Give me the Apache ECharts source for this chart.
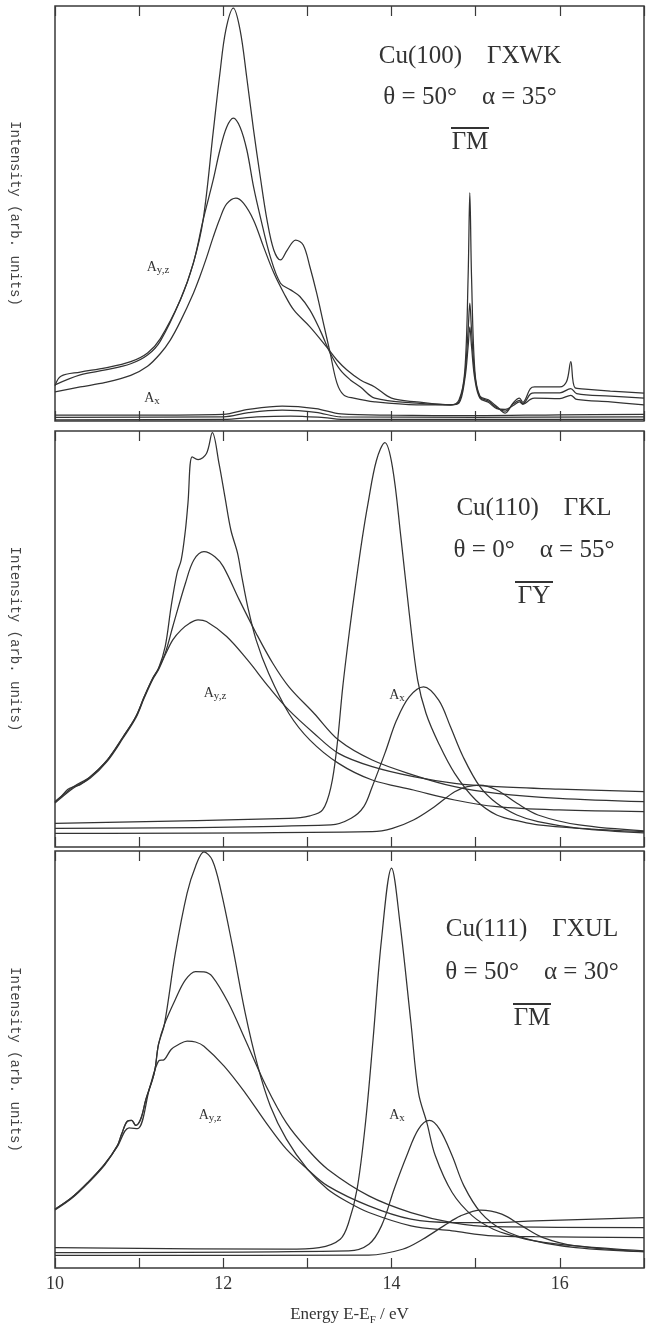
<!DOCTYPE html>
<html><head><meta charset="utf-8">
<script src="https://cdn.jsdelivr.net/npm/echarts@6.0.0/dist/echarts.min.js"></script>
<style>html,body{margin:0;padding:0;background:#fff}#c{width:648px;height:1327px}</style>
</head><body><div id="c"></div>
<script>
// ---- axis ----
const xMin = 10, xMax = 17;
const xTickLabels = ['10', '12', '14', '16'];
const yName = 'Intensity (arb. units)';
const xName = 'Energy E-E{s|F} / eV';

// ---- panel 1: Cu(100) ----
const p1YzSharp = [[10.0,8.5],[10.07,10.8],[10.3,11.8],[10.6,12.8],[10.9,14.3],[11.1,16.4],[11.25,19.8],[11.49,29.2],[11.645,38.1],[11.76,48.4],[11.88,69.6],[11.96,83.8],[12.03,94.2],[12.12,99.5],[12.2,94.2],[12.28,82.6],[12.36,70.1],[12.44,58.8],[12.52,48.4],[12.6,41.2],[12.68,38.8],[12.76,41.2],[12.86,43.6],[12.95,42.4],[13.03,37.1],[13.11,30.8],[13.19,23.6],[13.27,16.4],[13.35,9.2],[13.43,6.3],[13.55,5.5],[13.8,4.6],[14.3,3.9],[14.7,3.9],[14.8,5.0],[14.87,12],[14.91,35],[14.93,55],[14.95,35],[14.99,12],[15.05,6],[15.15,5.1],[15.25,3.5],[15.35,1.9],[15.45,4.5],[15.52,5.5],[15.56,4.5],[15.65,7.8],[15.7,8.2],[16.0,8.2],[16.08,9.5],[16.13,14.3],[16.18,8.0],[16.3,7.7],[16.6,7.2],[17,6.7]];
const p1YzMid = [[10.0,8.7],[10.3,11.1],[10.6,12.3],[10.9,13.8],[11.1,15.9],[11.25,19.2],[11.49,29.2],[11.645,38.1],[11.76,48.4],[11.88,58.1],[11.96,65.3],[12.04,70.8],[12.12,73.0],[12.2,70.8],[12.28,65.3],[12.36,56.4],[12.44,49.2],[12.56,39.5],[12.68,33.2],[12.8,31.6],[12.91,30.0],[13.03,26.7],[13.15,21.9],[13.27,16.4],[13.39,12.3],[13.51,9.9],[13.63,8.2],[13.8,5.5],[14.3,4.3],[14.7,3.9],[14.8,4.6],[14.87,11],[14.91,22],[14.93,28.4],[14.95,22],[14.99,11],[15.05,5.8],[15.15,4.8],[15.25,3.2],[15.35,2.4],[15.45,4.2],[15.52,5.0],[15.56,4.2],[15.65,6.5],[15.7,6.8],[16.0,6.8],[16.13,7.8],[16.2,6.6],[16.6,6.0],[17,5.5]];
const p1YzBroad = [[10.0,7.0],[10.3,8.2],[10.6,9.3],[10.9,11.0],[11.1,13.2],[11.25,16.2],[11.37,19.5],[11.49,24.0],[11.645,30.8],[11.72,34.7],[11.8,39.3],[11.88,44.3],[11.96,48.8],[12.04,52.3],[12.15,53.7],[12.24,52.5],[12.36,48.4],[12.48,41.9],[12.6,35.7],[12.72,30.8],[12.84,26.7],[13.03,22.7],[13.23,17.8],[13.35,14.7],[13.47,12.3],[13.63,9.9],[13.8,8.2],[14.0,5.5],[14.3,4.6],[14.7,3.9],[14.8,4.3],[14.87,10],[14.91,18],[14.93,22.7],[14.95,18],[14.99,10],[15.05,5.5],[15.15,4.5],[15.25,3.0],[15.35,2.8],[15.45,3.8],[15.52,4.6],[15.56,4.0],[15.65,5.2],[15.7,5.5],[16.0,5.4],[16.13,6.2],[16.2,5.2],[16.6,4.6],[17,3.9]];
const p1X1 = [[10,1.4],[11,1.4],[12,1.6],[12.3,2.8],[12.7,3.6],[13.1,3.0],[13.4,1.7],[14,1.4],[15,1.3],[16,1.5],[17,1.6]];
const p1X2 = [[10,0.9],[12,1.0],[12.3,2.0],[12.7,2.6],[13.1,2.1],[13.4,1.0],[15,0.9],[17,1.0]];
const p1X3 = [[10,0.3],[12,0.4],[12.4,1.0],[12.8,1.2],[13.2,0.8],[13.4,0.4],[17,0.4]];

// ---- panel 2: Cu(110) ----
const p2YzSharp = [[10,10.9],[10.07,12.1],[10.15,13.8],[10.22,14.5],[10.3,15.0],[10.42,16.9],[10.62,20.9],[10.81,26.5],[10.96,31.3],[11.06,36.1],[11.16,40.5],[11.23,42.9],[11.31,48.2],[11.38,57.8],[11.45,65.8],[11.5,69.0],[11.55,76.2],[11.58,82.6],[11.63,93.8],[11.7,93.1],[11.8,94.6],[11.87,99.6],[11.95,92.1],[12.02,84.1],[12.09,76.2],[12.17,70.6],[12.22,65.0],[12.29,57.8],[12.39,49.8],[12.54,41.7],[12.78,32.1],[13.03,25.7],[13.37,20.1],[13.77,16.1],[14.26,13.7],[14.75,11.3],[15.25,9.7],[15.99,8.9],[17,8.5]];
const p2YzMid = [[10,10.9],[10.07,12.1],[10.22,14.5],[10.42,16.9],[10.62,20.9],[10.81,26.5],[10.96,31.3],[11.06,36.1],[11.16,40.5],[11.23,42.9],[11.31,46.6],[11.4,53.0],[11.55,63.4],[11.65,69.0],[11.77,71.0],[11.9,69.8],[12.0,67.4],[12.19,59.4],[12.39,51.4],[12.59,44.1],[12.78,38.5],[13.08,32.1],[13.37,25.7],[13.77,20.9],[14.26,17.3],[14.75,14.5],[15.25,12.9],[15.99,11.7],[17,10.9]];
const p2YzBroad = [[10,10.6],[10.07,11.8],[10.22,14.2],[10.42,16.6],[10.62,20.6],[10.81,26.2],[10.96,31.0],[11.06,35.8],[11.16,40.2],[11.23,42.6],[11.31,46.2],[11.4,49.8],[11.5,52.2],[11.6,53.8],[11.7,54.6],[11.8,54.2],[12.04,50.6],[12.29,44.9],[12.54,38.5],[12.78,32.9],[13.08,27.3],[13.37,22.5],[13.77,19.3],[14.26,16.9],[14.75,15.3],[15.25,14.5],[15.99,13.9],[17,13.3]];
const p2X1 = [[10,5.7],[12.78,6.9],[13.03,7.5],[13.18,8.9],[13.28,14.5],[13.35,24],[13.42,38.5],[13.5,52],[13.57,62.6],[13.65,74],[13.72,82.6],[13.82,92.9],[13.92,97.2],[14.01,91.4],[14.11,74.6],[14.21,56.2],[14.31,40.1],[14.41,32.1],[14.56,24.9],[14.75,17.7],[15.0,11.3],[15.25,7.7],[15.54,6.1],[15.74,5.3],[16.23,4.5],[17,3.7]];
const p2X2 = [[10,4.5],[13.28,5.3],[13.52,6.9],[13.67,9.7],[13.77,14.5],[13.92,22.5],[14.06,30.5],[14.21,36.1],[14.38,38.5],[14.56,35.3],[14.7,28.9],[14.85,21.7],[15.05,14.5],[15.25,10.5],[15.49,7.7],[15.74,6.1],[16.23,4.5],[17,3.4]];
const p2X3 = [[10,3.3],[13.77,3.7],[14.01,4.5],[14.26,6.5],[14.51,9.7],[14.75,13.3],[14.9,14.5],[15.05,14.9],[15.25,13.7],[15.49,10.5],[15.74,7.7],[16.23,5.3],[17,3.9]];

// ---- panel 3: Cu(111) ----
const p3YzSharp = [[10,14.1],[10.2,16.9],[10.39,20.5],[10.59,24.9],[10.74,29.3],[10.79,32.0],[10.86,35.2],[10.91,35.4],[10.96,34.2],[11.02,35.8],[11.08,40.4],[11.18,46.8],[11.23,53.6],[11.3,58.4],[11.43,75.5],[11.57,89.9],[11.67,96.3],[11.77,99.8],[11.87,97.8],[11.97,90.7],[12.11,77.1],[12.26,61.2],[12.41,48.4],[12.56,38.8],[12.75,30.9],[13.0,23.7],[13.24,18.9],[13.49,15.7],[13.73,13.3],[14.23,10.1],[14.72,8.9],[15.21,7.7],[15.7,7.5],[17,7.3]];
const p3YzMid = [[10,14.1],[10.2,16.9],[10.39,20.5],[10.59,24.9],[10.74,29.3],[10.79,32.0],[10.86,35.2],[10.91,35.4],[10.96,34.2],[11.02,35.8],[11.08,40.4],[11.18,46.8],[11.23,53.6],[11.3,58.4],[11.43,64.4],[11.55,69.1],[11.67,71.1],[11.77,71.0],[11.87,69.9],[12.06,63.6],[12.26,54.8],[12.51,43.6],[12.75,34.8],[13.0,28.5],[13.24,23.7],[13.73,17.3],[14.23,13.3],[14.72,10.9],[15.21,9.9],[17,9.7]];
const p3YzBroad = [[10,13.9],[10.2,16.7],[10.39,20.3],[10.59,24.7],[10.74,29.1],[10.88,33.6],[10.98,33.4],[11.13,43.6],[11.23,49.6],[11.3,50.0],[11.38,52.4],[11.47,53.6],[11.57,54.4],[11.67,54.2],[11.77,53.2],[12.01,48.4],[12.26,42.0],[12.51,34.8],[12.75,28.5],[13.0,23.7],[13.24,19.7],[13.73,14.9],[14.23,11.7],[14.72,10.9],[15.21,10.9],[15.7,11.3],[17,12.1]];
const p3X1 = [[10,4.9],[12.75,4.5],[13.14,4.9],[13.39,6.9],[13.49,10.9],[13.59,18.9],[13.69,34.8],[13.78,54.8],[13.88,78.7],[14.0,95.9],[14.1,82.7],[14.23,58.8],[14.32,42.0],[14.42,34.8],[14.52,26.9],[14.72,18.1],[14.96,12.5],[15.21,9.3],[15.45,7.7],[15.7,6.5],[16.19,5.3],[17,4.1]];
const p3X2 = [[10,3.7],[13.49,4.1],[13.73,5.7],[13.88,10.1],[14.03,18.9],[14.18,26.9],[14.32,33.3],[14.45,35.4],[14.57,33.3],[14.72,26.9],[14.86,19.7],[15.06,13.3],[15.31,9.3],[15.7,6.5],[16.19,4.9],[17,3.9]];
const p3X3 = [[10,3.0],[13.73,3.1],[14.13,4.5],[14.37,6.9],[14.62,10.1],[14.82,12.5],[15.06,13.9],[15.31,12.9],[15.55,10.1],[15.8,7.3],[16.19,5.3],[17,3.9]];

const panels = [
  {curves: [p1YzSharp, p1YzMid, p1YzBroad, p1X1, p1X2, p1X3]},
  {curves: [p2YzSharp, p2YzMid, p2YzBroad, p2X1, p2X2, p2X3]},
  {curves: [p3YzSharp, p3YzMid, p3YzBroad, p3X1, p3X2, p3X3]}
];
const titles = [
  ['Cu(100)    \u0393XWK', '\u03b8 = 50\u00b0    \u03b1 = 35\u00b0', '\u0393M'],
  ['Cu(110)    \u0393KL', '\u03b8 = 0\u00b0    \u03b1 = 55\u00b0', '\u0393Y'],
  ['Cu(111)    \u0393XUL', '\u03b8 = 50\u00b0    \u03b1 = 30\u00b0', '\u0393M']
];

// ---- layout ----
const L = 55, R = 4;
const boxes = [{top: 6, height: 415}, {top: 431, height: 416}, {top: 851, height: 418}];
const ink = '#333';
const serif = 'Liberation Serif';

const chart = echarts.init(document.getElementById('c'), null, {renderer: 'canvas'});
const option = {animation: false, grid: [], xAxis: [], yAxis: [], series: [], graphic: []};

boxes.forEach((b, i) => {
  option.grid.push({left: L, right: R, top: b.top, height: b.height, show: true, borderColor: '#3a3a3a', borderWidth: 1.5});
  const tick = {inside: true, length: 10, lineStyle: {color: '#3a3a3a', width: 1.2}};
  const last = i === boxes.length - 1;
  option.xAxis.push({
    type: 'value', gridIndex: i, position: 'bottom', min: xMin, max: xMax, interval: 1,
    axisLine: {show: false}, axisTick: tick, splitLine: {show: false},
    axisLabel: {show: last, margin: 7, fontFamily: serif, fontSize: 18, color: ink,
      formatter: v => xTickLabels.includes(String(v)) ? String(v) : ''},
    name: last ? xName : '', nameLocation: 'middle', nameGap: 36,
    nameTextStyle: {fontFamily: serif, fontSize: 17, color: ink, lineHeight: 22,
      rich: {s: {fontFamily: serif, fontSize: 11, color: ink, lineHeight: 10, verticalAlign: 'bottom'}}}
  });
  option.xAxis.push({
    type: 'value', gridIndex: i, position: 'top', min: xMin, max: xMax, interval: 1,
    axisLine: {show: false}, axisTick: tick, splitLine: {show: false}, axisLabel: {show: false}
  });
  option.yAxis.push({
    type: 'value', gridIndex: i, min: 0, max: 100,
    axisLine: {show: false}, axisTick: {show: false}, axisLabel: {show: false}, splitLine: {show: false},
    name: yName, nameLocation: 'middle', nameRotate: -90, nameGap: 33,
    nameTextStyle: {fontFamily: 'Liberation Mono', fontSize: 14, color: '#444'}
  });
  panels[i].curves.forEach(d => {
    option.series.push({type: 'line', xAxisIndex: 2 * i, yAxisIndex: i, data: d, showSymbol: false,
      smooth: 0.35, lineStyle: {color: ink, width: 1.25}, silent: true});
  });
});

// ---- annotation texts ----
const textPos = [
  {cx: 470, y: [56, 97, 142]},
  {cx: 534, y: [508, 550, 596]},
  {cx: 532, y: [929, 972, 1018]}
];
textPos.forEach((p, i) => {
  titles[i].forEach((t, k) => {
    option.graphic.push({type: 'text', x: p.cx, y: p.y[k],
      style: {text: t, fontFamily: serif, fontSize: 25, fill: ink, align: 'center', verticalAlign: 'middle'}});
  });
  option.graphic.push({type: 'line', shape: {x1: p.cx - 19, y1: p.y[2] - 14, x2: p.cx + 19, y2: p.y[2] - 14},
    style: {stroke: ink, lineWidth: 2}});
});
// A labels
const subRich = {b: {fontFamily: serif, fontSize: 14, fill: ink, lineHeight: 18}, s: {fontFamily: serif, fontSize: 11, fill: ink, lineHeight: 11, verticalAlign: 'bottom'}};
const aLabels = [
  {x: 158, y: 267, t: '{b|A}{s|y,z}'}, {x: 152, y: 398, t: '{b|A}{s|x}'},
  {x: 215, y: 693, t: '{b|A}{s|y,z}'}, {x: 397, y: 695, t: '{b|A}{s|x}'},
  {x: 210, y: 1115, t: '{b|A}{s|y,z}'}, {x: 397, y: 1115, t: '{b|A}{s|x}'}
];
aLabels.forEach(a => option.graphic.push({type: 'text', x: a.x, y: a.y,
  style: {text: a.t, rich: subRich, align: 'center', verticalAlign: 'middle', fill: ink}}));

chart.setOption(option);
</script></body></html>
